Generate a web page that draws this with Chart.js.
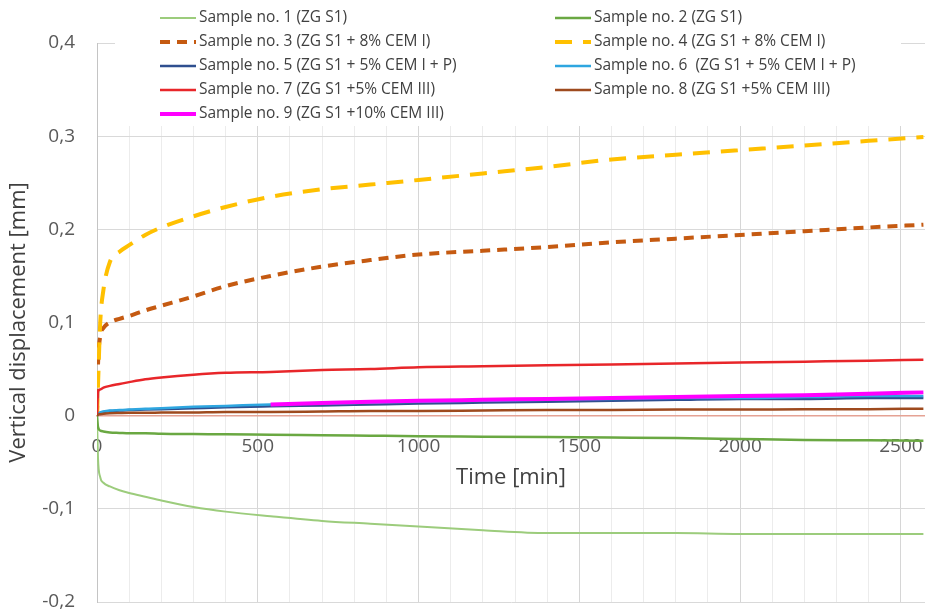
<!DOCTYPE html>
<html>
<head>
<meta charset="utf-8">
<title>Vertical displacement</title>
<script src="https://cdn.jsdelivr.net/npm/chart.js@4.4.1/dist/chart.umd.min.js"></script>
<style>
    body { margin: 0; background: #fff; }
    #graph-container { width: 925px; height: 614px; position: relative; }
</style>
</head>
<body>
<div id="graph-container"><canvas id="chart-displacement"></canvas></div>
<script>
// time [min]
var time = [0, 3, 10, 20, 40, 70, 100, 150, 200, 300, 400, 540, 700, 850, 1000, 1200, 1400, 1600, 1800, 2000, 2200, 2400, 2570];

var sample1 = [0, -0.045, -0.066, -0.072, -0.076, -0.080, -0.083, -0.087, -0.091, -0.098, -0.103, -0.108, -0.113, -0.116, -0.119, -0.123, -0.126, -0.126, -0.126, -0.127, -0.127, -0.127, -0.127];
var sample2 = [0, -0.012, -0.016, -0.017, -0.018, -0.0185, -0.019, -0.019, -0.0195, -0.0198, -0.020, -0.0205, -0.021, -0.0215, -0.022, -0.0225, -0.023, -0.0235, -0.024, -0.025, -0.026, -0.0265, -0.027];
var sample3 = [0, 0.053, 0.085, 0.094, 0.100, 0.104, 0.107, 0.113, 0.118, 0.128, 0.139, 0.150, 0.160, 0.167, 0.173, 0.177, 0.181, 0.186, 0.190, 0.194, 0.198, 0.202, 0.205];
var sample4 = [0, 0.031, 0.100, 0.135, 0.165, 0.176, 0.183, 0.194, 0.202, 0.214, 0.224, 0.235, 0.243, 0.248, 0.253, 0.260, 0.267, 0.275, 0.280, 0.285, 0.290, 0.295, 0.299];
var sample5 = [0, 0.002, 0.003, 0.004, 0.005, 0.0055, 0.006, 0.0065, 0.007, 0.008, 0.009, 0.010, 0.011, 0.012, 0.013, 0.014, 0.015, 0.016, 0.017, 0.018, 0.018, 0.019, 0.019];
var sample6 = [0, 0.002, 0.0035, 0.0045, 0.0055, 0.006, 0.0065, 0.0075, 0.008, 0.0095, 0.0105, 0.012, 0.013, 0.014, 0.015, 0.016, 0.017, 0.018, 0.019, 0.019, 0.020, 0.021, 0.021];
var sample7 = [0, 0.026, 0.028, 0.030, 0.032, 0.034, 0.036, 0.039, 0.041, 0.044, 0.046, 0.047, 0.049, 0.050, 0.052, 0.053, 0.054, 0.055, 0.056, 0.057, 0.058, 0.059, 0.060];
var sample8 = [0, 0.001, 0.0015, 0.002, 0.0025, 0.0028, 0.003, 0.003, 0.0033, 0.0035, 0.004, 0.004, 0.0045, 0.005, 0.005, 0.0055, 0.006, 0.006, 0.0065, 0.0065, 0.007, 0.007, 0.0075];
var sample9 = [null, null, null, null, null, null, null, null, null, null, null, 0.012, 0.0135, 0.015, 0.016, 0.017, 0.018, 0.019, 0.020, 0.021, 0.022, 0.0235, 0.025];

var seriesNames = [
    'Sample no. 1 (ZG S1)',
    'Sample no. 2 (ZG S1)',
    'Sample no. 3 (ZG S1 + 8% CEM I)',
    'Sample no. 4 (ZG S1 + 8% CEM I)',
    'Sample no. 5 (ZG S1 + 5% CEM I + P)',
    'Sample no. 6  (ZG S1 + 5% CEM I + P)',
    'Sample no. 7 (ZG S1 +5% CEM III)',
    'Sample no. 8 (ZG S1 +5% CEM III)',
    'Sample no. 9 (ZG S1 +10% CEM III)'
];
var xTickLabels = [0, 500, 1000, 1500, 2000, 2500];
var yTickLabels = [-0.2, -0.1, 0, 0.1, 0.2, 0.3, 0.4];

var allSeries = [sample1, sample2, sample3, sample4, sample5, sample6, sample7, sample8, sample9];
var lineColors = ['#9ccc7c', '#6aa842', '#c55a11', '#ffc000', '#2f4f8f', '#2ea6e0', '#e8262a', '#9e4a1e', '#ff00ff'];
var lineWidths = [2, 2.5, 4, 4, 2.5, 2.5, 2.5, 2.5, 4];
var lineDashes = [[], [], [10, 7], [17, 11], [], [], [], [], []];

var datasets = [];
allSeries.forEach(function(vals, i) {
    var pts = [];
    vals.forEach(function(v, k) {
        if (v !== null) pts.push({ x: time[k], y: v });
    });
    datasets.push({
        label: seriesNames[i],
        data: pts,
        borderColor: lineColors[i],
        backgroundColor: lineColors[i],
        borderWidth: lineWidths[i],
        borderDash: lineDashes[i],
        pointRadius: 0,
        fill: false,
        cubicInterpolationMode: 'monotone',
        order: 8 - i // later samples on top, like excel
    });
});

// legend drawn over the plot area (two columns)
var legendBox = {
    id: 'legendBox',
    beforeDatasetsDraw: function(chart) {
        var ctx = chart.ctx;
        ctx.save();
        ctx.fillStyle = '#fff';
        ctx.fillRect(115, 0, 786, 126);
        ctx.restore();
    },
    afterDraw: function(chart) {
        var ctx = chart.ctx;
        chart.data.datasets.forEach(function(ds, i) {
            var col = i % 2;
            var row = Math.floor(i / 2);
            var x0 = col ? 555 : 160;
            var y = 18 + row * 24;
            ctx.save();
            ctx.strokeStyle = ds.borderColor;
            ctx.lineWidth = ds.borderWidth;
            ctx.setLineDash(ds.borderDash);
            ctx.beginPath();
            ctx.moveTo(x0, y);
            ctx.lineTo(x0 + 36, y);
            ctx.stroke();
            ctx.setLineDash([]);
            ctx.fillStyle = '#404040';
            ctx.font = '15.5px "Open Sans"';
            ctx.textBaseline = 'middle';
            ctx.fillText(ds.label, x0 + 39, y);
            ctx.restore();
        });
    }
};

var chartDisplacement = new Chart(document.getElementById('chart-displacement'), {
    type: 'line',
    data: { datasets: datasets },
    options: {
        responsive: true,
        maintainAspectRatio: false,
        animation: false,
        layout: { padding: { top: 43, bottom: 12, left: 0, right: 0 } },
        plugins: {
            legend: { display: false },
            tooltip: { enabled: false }
        },
        scales: {
            x: {
                type: 'linear',
                min: 0,
                max: 2575,
                position: { y: 0 },
                border: { display: true, color: '#e5a294', width: 1.5 },
                grid: {
                    drawTicks: false,
                    color: function(c) {
                        return (c.tick && c.tick.value % 500 === 0) ? '#d6d6d6' : '#ececec';
                    }
                },
                ticks: {
                    stepSize: 100,
                    includeBounds: false,
                    autoSkip: false,
                    maxRotation: 0,
                    padding: 20,
                    color: '#595959',
                    font: { family: 'Open Sans', size: 19 },
                    callback: function(value) {
                        return xTickLabels.indexOf(Math.round(value)) >= 0 ? String(Math.round(value)) : '';
                    }
                },
                title: {
                    display: true,
                    text: 'Time [min]',
                    color: '#404040',
                    font: { family: 'Open Sans', size: 22 },
                    padding: { top: -14, bottom: 0 }
                },
                afterFit: function(scale) {
                    scale.paddingLeft = 0;
                    scale.paddingRight = 0;
                }
            },
            y: {
                min: -0.2,
                max: 0.4,
                border: { display: true, color: '#c4c4c4' },
                grid: { drawTicks: false, color: '#d9d9d9' },
                ticks: {
                    stepSize: 0.1,
                    padding: 22,
                    color: '#595959',
                    font: { family: 'Open Sans', size: 19 },
                    callback: function(value) {
                        var v = Math.round(value * 10) / 10;
                        if (yTickLabels.indexOf(v) < 0) return '';
                        return v === 0 ? '0' : v.toFixed(1).replace('.', ',');
                    }
                },
                title: {
                    display: true,
                    text: 'Vertical displacement [mm]',
                    color: '#404040',
                    font: { family: 'Open Sans', size: 22 },
                    padding: { top: 6, bottom: 0 }
                },
                afterFit: function(scale) {
                    scale.width = 97;
                    scale.paddingTop = 0;
                    scale.paddingBottom = 0;
                }
            }
        }
    },
    plugins: [legendBox]
});
</script>
</body>
</html>
